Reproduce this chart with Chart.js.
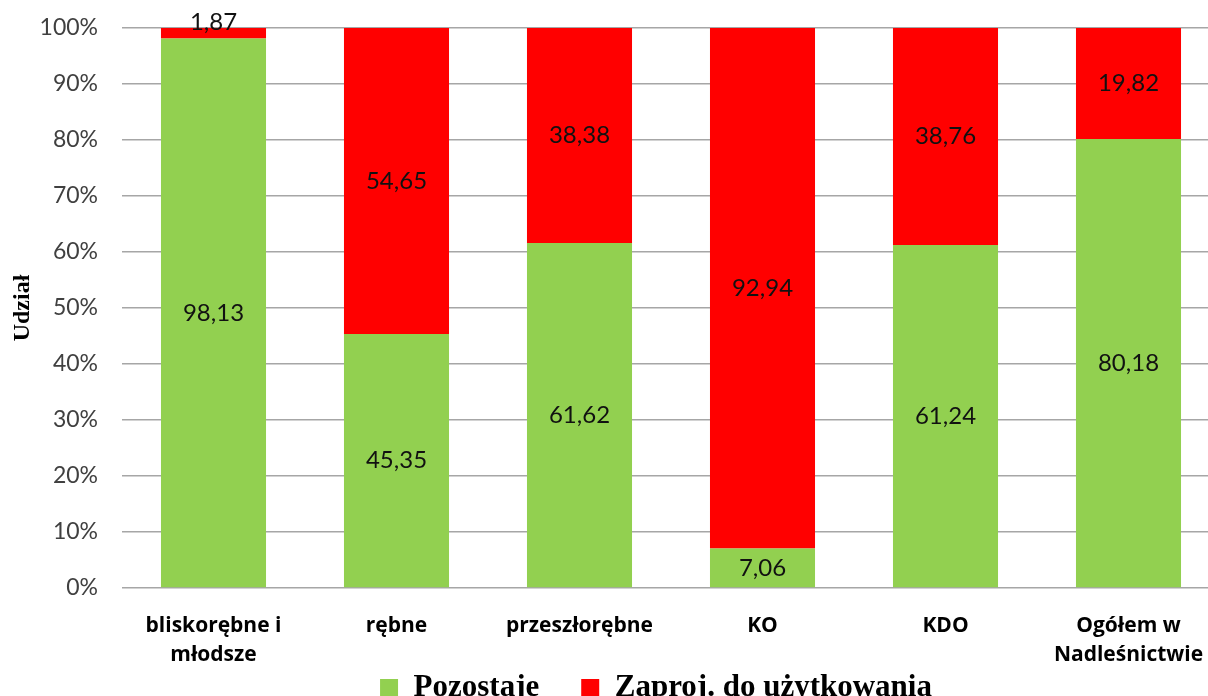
<!DOCTYPE html>
<html>
<head>
<meta charset="utf-8">
<script src="https://cdn.jsdelivr.net/npm/chart.js@4"></script>
<style>
html,body{margin:0;padding:0;background:#fff;overflow:hidden;}
#wrap{width:1220px;height:789px;position:relative;}
</style>
</head>
<body>
<div id="wrap"><canvas id="c"></canvas></div>
<script>
const categories = [["bliskorębne i","młodsze"],"rębne","przeszłorębne","KO","KDO",["Ogółem w","Nadleśnictwie"]];
const pozostaje = [98.13,45.35,61.62,7.06,61.24,80.18];
const zaproj = [1.87,54.65,38.38,92.94,38.76,19.82];
const seriesNames = ["Pozostaje","Zaproj. do użytkowania"];

const PLOT_BOTTOM = 588;
const LEGEND_CENTER = 672;

const valueLabels = {
  id:'valueLabels',
  afterDatasetsDraw(chart){
    const ctx = chart.ctx;
    ctx.save();
    ctx.font = '24px Lato';
    ctx.fillStyle = '#111';
    ctx.textAlign = 'center';
    ctx.textBaseline = 'middle';
    chart.data.datasets.forEach((ds,di)=>{
      const meta = chart.getDatasetMeta(di);
      meta.data.forEach((bar,i)=>{
        const v = ds.data[i];
        const top = Math.min(bar.y, bar.base), bot = Math.max(bar.y, bar.base);
        let cy = (top+bot)/2;
        if (bot-top < 24) cy = top - 6;
        ctx.fillText(v.toFixed(2).replace('.',','), bar.x, cy);
      });
    });
    ctx.restore();
  }
};
const legendShift = {
  id:'legendShift',
  afterLayout(chart){
    const lg = chart.legend;
    if(lg){
      const h = lg.height;
      lg.left += 46; lg.right += 46;
      lg.top = LEGEND_CENTER - h/2; lg.bottom = lg.top + h;
    }
  }
};

new Chart(document.getElementById('c'), {
  type:'bar',
  data:{
    labels:categories,
    datasets:[
      {label:seriesNames[0], data:pozostaje, backgroundColor:'#92D050', categoryPercentage:1, barPercentage:0.574},
      {label:seriesNames[1], data:zaproj, backgroundColor:'#FF0000', categoryPercentage:1, barPercentage:0.574}
    ]
  },
  options:{
    responsive:true, maintainAspectRatio:false, animation:false,
    layout:{padding:{top:28,right:0,left:0,bottom:0}},
    plugins:{
      tooltip:{enabled:false},
      legend:{position:'bottom', labels:{font:{family:'Liberation Serif',size:31,weight:'bold'}, color:'#000', boxWidth:18, boxHeight:18, padding:42}}
    },
    scales:{
      x:{stacked:true, grid:{display:false}, border:{display:false},
         ticks:{font:{family:'Open Sans',size:21,weight:'bold',lineHeight:1.4}, color:'#000', maxRotation:0, autoSkip:false, padding:15},
         afterFit(s){
           const lh = s.chart.legend ? s.chart.legend.height : 0;
           s.height = s.chart.height - PLOT_BOTTOM - lh;
           s.paddingLeft = 0; s.paddingRight = 0;
         }},
      y:{stacked:true, min:0, max:100,
         ticks:{stepSize:10, callback:v=>v+'%', font:{family:'Lato',size:23}, color:'#404040', padding:24},
         grid:{color:'#a6a6a6', lineWidth:1.5, drawTicks:false},
         border:{display:false},
         title:{display:true, text:'Udział', font:{family:'Liberation Serif',size:24,weight:'bold'}, color:'#000', padding:{top:8,bottom:0}},
         afterFit(s){ s.width = 122; s.paddingTop = 0; s.paddingBottom = 0; }}
    }
  },
  plugins:[valueLabels, legendShift]
});
</script>
</body>
</html>
